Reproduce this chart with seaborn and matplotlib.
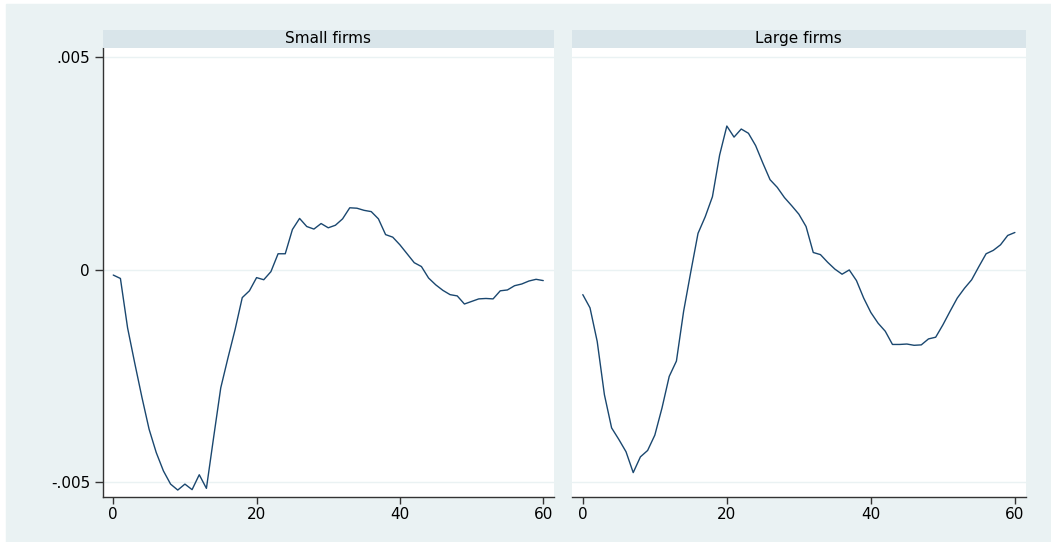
import matplotlib
matplotlib.use("Agg")
import matplotlib.pyplot as plt
import seaborn as sns
import pandas as pd
import numpy as np

# Horizon (months) and the two impulse responses
horizon = list(range(61))

small_firms = [
    -0.00013, -0.00021, -0.00137, -0.00220, -0.00300, -0.00375, -0.00430, -0.00473,
    -0.00504, -0.00518, -0.00504, -0.00517, -0.00482, -0.00514, -0.00395, -0.00278,
    -0.00208, -0.00141, -0.00066, -0.00050, -0.00019, -0.00024, -0.00005, 0.00037,
    0.00037, 0.00094, 0.00120, 0.00101, 0.00095, 0.00108, 0.00098, 0.00104,
    0.00119, 0.00145, 0.00144, 0.00139, 0.00136, 0.00119, 0.00082, 0.00076,
    0.00058, 0.00037, 0.00016, 0.00007, -0.00020, -0.00036, -0.00049, -0.00059,
    -0.00062, -0.00081, -0.00075, -0.00069, -0.00068, -0.00069, -0.00050, -0.00048,
    -0.00038, -0.00034, -0.00027, -0.00023, -0.00026,
]

large_firms = [
    -0.00059, -0.00090, -0.00169, -0.00294, -0.00372, -0.00399, -0.00428, -0.00477,
    -0.00440, -0.00425, -0.00389, -0.00325, -0.00251, -0.00215, -0.00098, -0.00005,
    0.00085, 0.00124, 0.00171, 0.00269, 0.00337, 0.00311, 0.00330, 0.00320,
    0.00291, 0.00250, 0.00211, 0.00193, 0.00169, 0.00150, 0.00130, 0.00101,
    0.00040, 0.00035, 0.00017, 0.00001, -0.00011, -0.00001, -0.00026, -0.00067,
    -0.00101, -0.00126, -0.00145, -0.00176, -0.00176, -0.00175, -0.00178, -0.00177,
    -0.00163, -0.00159, -0.00130, -0.00098, -0.00067, -0.00044, -0.00024, 0.00007,
    0.00037, 0.00045, 0.00058, 0.00080, 0.00087,
]

panel_titles = ["Small firms", "Large firms"]
x_ticks = [0, 20, 40, 60]
y_ticks = [-0.005, 0, 0.005]
y_tick_labels = ["-.005", "0", ".005"]

df = pd.DataFrame({
    "t": horizon * 2,
    "irf": small_firms + large_firms,
    "group": [panel_titles[0]] * len(horizon) + [panel_titles[1]] * len(horizon),
})

bg = "#eaf2f3"
strip = "#d9e5ea"
navy = "#1a476f"
axis_col = "#333333"
fs = 11

sns.set_style("white")
plt.rcParams["font.family"] = ["DejaVu Sans"]

W, H = 1051, 542
fig = plt.figure(figsize=(W / 100, H / 100), dpi=100, facecolor="white")
fig.patches.append(plt.Rectangle((6 / W, 0), 1 - 6 / W, 1 - 4 / H,
                                 transform=fig.transFigure, color=bg, zorder=-10))

# panel boxes in pixels: left, right
boxes = [(102.5, 554), (572, 1025.7)]
top_px, bot_px, strip_top = 47.7, 497.3, 29.7

for i, (name, (x0, x1)) in enumerate(zip(panel_titles, boxes)):
    ax = fig.add_axes([x0 / W, 1 - bot_px / H, (x1 - x0) / W, (bot_px - top_px) / H])
    ax.set_facecolor("white")
    sub = df[df.group == name]
    sns.lineplot(data=sub, x="t", y="irf", color=navy, linewidth=1.0, ax=ax)
    ax.set_xlim(-1.5, 61.5)
    ax.set_ylim(-0.00535, 0.00521)
    ax.set_xticks(x_ticks)
    ax.set_xticklabels([str(v) for v in x_ticks], fontsize=fs, color="black")
    ax.set_yticks(y_ticks)
    for yv in y_ticks:
        ax.axhline(yv, color=bg, linewidth=1, zorder=0)
    ax.set_xlabel("")
    ax.set_ylabel("")
    for s in ["top", "right"]:
        ax.spines[s].set_visible(False)
    ax.spines["bottom"].set_color(axis_col)
    ax.spines["bottom"].set_linewidth(1)
    ax.tick_params(axis="x", bottom=True, direction="out", length=5, width=1,
                   color=axis_col, pad=2)
    if i == 0:
        ax.set_yticklabels(y_tick_labels, fontsize=fs, color="black")
        ax.spines["left"].set_color(axis_col)
        ax.spines["left"].set_linewidth(1)
        ax.tick_params(axis="y", left=True, direction="out", length=6, width=1,
                       color=axis_col, pad=3)
    else:
        ax.spines["left"].set_visible(False)
        ax.tick_params(axis="y", left=False, labelleft=False)

    # strip on top of each panel
    sax = fig.add_axes([x0 / W, 1 - top_px / H, (x1 - x0) / W, (top_px - strip_top) / H])
    sax.set_facecolor(strip)
    sax.set_xticks([])
    sax.set_yticks([])
    for s in sax.spines.values():
        s.set_visible(False)
    sax.text(0.5, 0.5, name, ha="center", va="center", fontsize=fs, color="black",
             transform=sax.transAxes)

fig.savefig("out.png", dpi=100, facecolor=fig.get_facecolor())
